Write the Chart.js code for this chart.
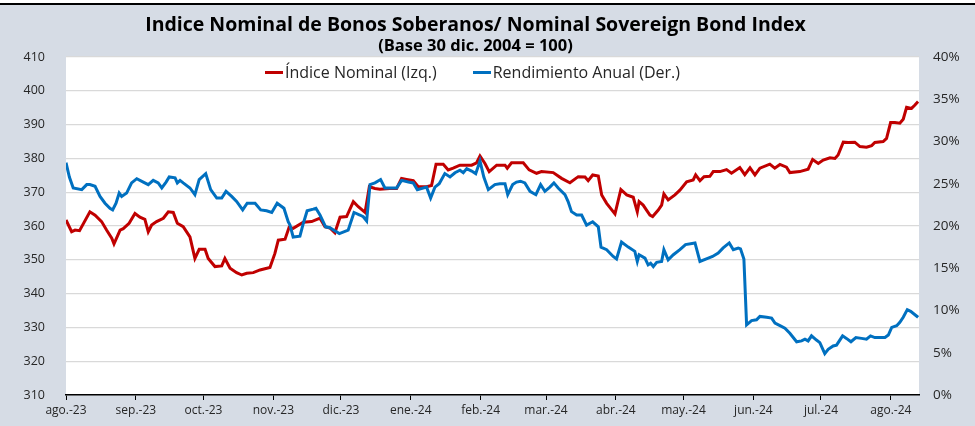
<!DOCTYPE html>
<html>
<head>
<meta charset="utf-8">
<script src="https://cdn.jsdelivr.net/npm/chart.js@4.4.1/dist/chart.umd.min.js"></script>
<style>
  body { margin: 0; background: #fff; }
  #wrap { position: relative; width: 975px; height: 426px; }
  #topRule { position: absolute; left: 0; top: 0; width: 975px; height: 3px; background: #fff; border-bottom: 2px solid #000; }
  #legendBox { position: absolute; left: 265px; top: 61px; display: flex; font-family: 'Open Sans', sans-serif; font-size: 16px; color: #262626; line-height: 22px; }
  #legendBox .item { display: flex; align-items: center; margin-right: 36px; white-space: nowrap; }
  #legendBox .swatch { width: 18px; height: 3px; margin-right: 2px; }
</style>
</head>
<body>
<div id="wrap">
  <canvas id="bondChart" width="975" height="426"></canvas>
  <div id="topRule"></div>
  <div id="legendBox"></div>
</div>
<script>
// month ticks, as days since 1 Aug 2023
const monthLabels = ["ago.-23", "sep.-23", "oct.-23", "nov.-23", "dic.-23", "ene.-24", "feb.-24", "mar.-24", "abr.-24", "may.-24", "jun.-24", "jul.-24", "ago.-24"];
const monthDays = [0, 31, 61, 92, 122, 153, 184, 213, 244, 274, 305, 335, 366];

// Índice Nominal (left axis)
const indexDays = [0, 2.5, 4, 6, 10.6, 12.9, 15.8, 18, 20.3, 21.3, 24, 25.4, 28, 30.6, 32.8, 35, 36.5, 38, 40.2, 43.2,
  45.4, 47.6, 49.4, 52, 55, 57.2, 59.1, 61.7, 63.1, 66.1, 69.1, 70.5, 72.8, 75.7, 78, 80.2, 83.1, 86.1, 90.5, 92.7,
  94.2, 97.2, 99, 100.8, 105.3, 109, 112.7, 114.9, 117.1, 119.3, 121.6, 124.5, 127.5, 129.7, 132.7, 134.6, 137.1, 139.3, 143.7, 146.7,
  148.9, 151.1, 154.1, 156.3, 160, 162.2, 164.2, 167.4, 169.6, 171.8, 174.8, 180, 182.2, 183.7, 185.9, 187.8, 191.1, 194.8, 195.8, 197.7,
  202.9, 205.5, 208.8, 211, 216.2, 219.9, 223.6, 227.3, 230.3, 231.7, 233.7, 236.2, 237.7, 239.9, 243.6, 246.2, 248.8, 251.7, 253.5, 254.3,
  256.1, 257.6, 259.1, 260.3, 262.8, 264.3, 265.3, 267.2, 270.2, 272.4, 275.4, 278.3, 279.4, 281.3, 283.1, 285.7, 287.2, 290.2, 293.1, 295.3,
  299, 301.2, 303.5, 305.7, 307.9, 312.3, 314.5, 316.8, 319.7, 321.2, 325.6, 329.3, 331.3, 333.8, 336, 339, 341.2, 342.6, 344.9, 347.1,
  350, 352.3, 355.2, 357.5, 358.9, 362.6, 364.1, 365.9, 367.8, 370, 371.5, 373, 375.2, 376.7, 378.1];
const indexValues = [361.8, 358.3, 358.8, 358.6, 364.2, 363.2, 361.3, 358.8, 356.4, 354.7, 358.8, 359.2, 360.8, 363.7, 362.6, 362.0, 358.3, 360.3, 361.3, 362.3,
  364.2, 364.0, 360.8, 359.8, 356.8, 350.4, 353.1, 353.1, 350.4, 348.0, 348.2, 350.4, 347.5, 346.2, 345.5, 346.0, 346.2, 347.0, 347.7, 351.9,
  355.8, 356.1, 359.6, 359.3, 361.1, 361.3, 362.3, 359.8, 359.4, 358.0, 362.6, 362.8, 367.2, 365.7, 364.0, 371.6, 371.1, 370.9, 371.1, 371.1,
  374.1, 373.8, 373.4, 371.6, 371.6, 372.0, 378.3, 378.3, 376.6, 377.1, 378.0, 378.0, 378.7, 380.7, 378.5, 376.1, 378.0, 378.0, 377.1, 378.7,
  378.7, 376.6, 375.6, 376.1, 375.8, 374.1, 372.8, 374.6, 374.5, 373.4, 375.1, 374.8, 369.2, 366.7, 363.6, 370.8, 369.2, 368.5, 364.2, 367.2,
  366.2, 364.7, 363.2, 362.8, 364.7, 366.2, 369.5, 367.7, 369.2, 370.6, 373.1, 373.6, 375.1, 373.4, 374.6, 374.7, 376.1, 376.1, 376.7, 375.6,
  377.3, 375.2, 377.2, 375.1, 377.1, 378.3, 377.1, 378.2, 377.4, 375.8, 376.1, 376.8, 379.7, 378.5, 379.5, 380.2, 380.0, 381.0, 384.8, 384.7,
  384.8, 383.5, 383.3, 383.8, 384.7, 385.0, 385.9, 390.6, 390.6, 390.4, 391.6, 395.1, 394.8, 395.8, 396.8];

// Rendimiento Anual, % (right axis)
const yieldDays = [0, 1.5, 3.2, 7, 9.2, 10.6, 12.9, 15.1, 17.3, 19.5, 20.7, 22.2, 23.6, 24.7, 26.9, 29.1, 31.4, 34.3, 36.5, 38.7,
  40.9, 42.5, 44.4, 45.8, 48.4, 49.4, 50.6, 52, 55, 57.2, 59.1, 62, 64.2, 66.9, 69.1, 71, 73.5, 75.7, 78.4, 80.4,
  83.9, 86.4, 89, 91.3, 93.7, 96.7, 98.6, 99.4, 100.8, 103.8, 105.3, 107, 109.7, 110.9, 112.7, 115.2, 117.1, 118.9, 121.3, 125.2,
  127.8, 130.4, 131.9, 133.4, 134.9, 137.1, 139.6, 141.5, 146.7, 148.9, 151.9, 154.1, 155.9, 160, 161.8, 163.7, 165.6, 168.1, 170.4, 172.6,
  174.8, 176.3, 177.8, 180, 181.8, 183.7, 185.4, 187.4, 190.3, 192.5, 194.8, 196, 198.2, 199.9, 201.7, 203.6, 205.9, 208.5, 210.6, 212.5,
  214.7, 216.5, 218.4, 221.4, 222.8, 224.3, 226.6, 228.8, 231, 233.7, 236.2, 237.4, 239.9, 242.8, 244.3, 246.5, 249.5, 252.4, 253.5, 254.3,
  256.9, 258.3, 259.4, 260.6, 262.1, 264.3, 265.3, 267.2, 269.5, 272.4, 274.9, 279.1, 281.3, 285, 286.9, 289.4, 291.6, 294.3, 296.1, 298.3,
  299.3, 300.8, 302, 304.2, 306.4, 307.9, 310.9, 313.1, 314.6, 316.8, 319, 321.2, 324.2, 326.4, 327.9, 329.3, 330.8, 333, 334.5, 336.7,
  338.2, 340.4, 341.9, 344.6, 346.3, 348.3, 350.5, 353, 355.2, 357, 358.9, 363.4, 364.9, 366.4, 368.6, 370, 371.5, 373.3, 374.8, 376.7, 378.1];
const yieldValues = [27.5, 25.8, 24.5, 24.3, 24.9, 24.9, 24.7, 23.5, 22.7, 22.1, 21.9, 22.7, 23.9, 23.5, 23.9, 25.1, 25.6, 25.2, 24.9, 25.4,
  25.1, 24.5, 25.2, 25.8, 25.7, 25.1, 25.4, 25.1, 24.5, 23.7, 25.5, 26.2, 24.3, 23.3, 23.3, 24.1, 23.5, 22.9, 21.9, 22.7,
  22.7, 21.9, 21.8, 21.6, 22.7, 22.1, 20.5, 20.1, 18.7, 18.8, 20.3, 21.8, 22.0, 22.1, 21.3, 19.9, 19.8, 19.5, 19.1, 19.5,
  21.6, 21.3, 21.1, 20.6, 24.9, 25.1, 25.5, 24.5, 24.5, 25.4, 25.2, 25.1, 24.3, 24.6, 23.3, 24.6, 25.0, 26.2, 25.8, 26.3,
  26.6, 26.3, 26.8, 26.5, 26.2, 27.7, 25.8, 24.3, 24.9, 25.0, 25.0, 23.7, 24.9, 25.2, 25.3, 25.1, 24.1, 23.7, 24.9, 24.1,
  24.6, 25.1, 24.5, 23.7, 22.9, 21.7, 21.3, 21.3, 20.1, 20.5, 19.9, 17.5, 17.2, 16.4, 16.1, 18.1, 17.5, 17.0, 15.8, 16.6,
  16.2, 15.4, 15.6, 15.2, 15.7, 15.8, 17.2, 16.0, 16.6, 17.2, 17.8, 18.0, 15.8, 16.2, 16.4, 16.8, 17.4, 18.0, 17.2, 17.4,
  17.3, 16.1, 8.3, 8.8, 8.9, 9.3, 9.2, 9.1, 8.5, 8.2, 7.9, 7.3, 6.3, 6.4, 6.6, 6.4, 7.0, 6.5, 6.2, 4.9,
  5.4, 5.8, 5.9, 7.0, 6.7, 6.3, 6.8, 6.7, 6.6, 7.0, 6.8, 6.8, 7.1, 8.0, 8.2, 8.6, 9.2, 10.1, 9.9, 9.5, 9.2];

const toPoints = (days, values) => days.map((d, i) => ({ x: d, y: values[i] }));

Chart.defaults.font.family = "'Open Sans', sans-serif";
Chart.defaults.color = "#262626";

// grey-blue frame with a white plot area
const chartBackground = {
  id: "chartBackground",
  beforeDraw(chart) {
    const { ctx, chartArea } = chart;
    ctx.save();
    ctx.fillStyle = "#D6DCE5";
    ctx.fillRect(0, 0, chart.width, chart.height);
    ctx.fillStyle = "#FFFFFF";
    ctx.fillRect(chartArea.left, chartArea.top, chartArea.right - chartArea.left, chartArea.bottom - chartArea.top);
    ctx.restore();
  },
};

// the headings sit a little left of the canvas centre in the original
const titleNudge = {
  id: "titleNudge",
  afterUpdate(chart) {
    chart.boxes
      .filter((b) => b.options && typeof b.options.text === "string")
      .forEach((b) => {
        b.left -= 12;
        b.right -= 12;
      });
  },
};

// html legend laid over the top of the plot area (red entry first)
const htmlLegend = {
  id: "htmlLegend",
  afterUpdate(chart) {
    const box = document.getElementById("legendBox");
    box.innerHTML = "";
    const items = chart.options.plugins.legend.labels.generateLabels(chart).reverse();
    items.forEach((item) => {
      const row = document.createElement("div");
      row.className = "item";
      const swatch = document.createElement("span");
      swatch.className = "swatch";
      swatch.style.background = item.strokeStyle;
      const text = document.createElement("span");
      text.textContent = item.text;
      row.appendChild(swatch);
      row.appendChild(text);
      box.appendChild(row);
    });
  },
};

const ctx = document.getElementById("bondChart").getContext("2d");
const bondChart = new Chart(ctx, {
  type: "line",
  data: {
    datasets: [
      {
        label: "Rendimiento Anual (Der.)",
        data: toPoints(yieldDays, yieldValues),
        borderColor: "#0070C0",
        backgroundColor: "#0070C0",
        borderWidth: 3,
        pointRadius: 0,
        tension: 0,
        yAxisID: "yRight",
      },
      {
        label: "Índice Nominal (Izq.)",
        data: toPoints(indexDays, indexValues),
        borderColor: "#C00000",
        backgroundColor: "#C00000",
        borderWidth: 3,
        pointRadius: 0,
        tension: 0,
        yAxisID: "yLeft",
      },
    ],
  },
  options: {
    responsive: false,
    animation: false,
    layout: { padding: 0 },
    plugins: {
      title: {
        display: true,
        text: "Indice Nominal de Bonos Soberanos/ Nominal Sovereign Bond Index",
        color: "#000",
        font: { size: 19.5, weight: "bold", lineHeight: 1.2 },
        padding: { top: 13.3, bottom: 0 },
      },
      subtitle: {
        display: true,
        text: "(Base 30 dic. 2004 = 100)",
        color: "#000",
        font: { size: 16.5, weight: "bold", lineHeight: 1.2 },
        padding: { top: 0, bottom: 0.5 },
      },
      legend: { display: false },
      tooltip: { enabled: false },
    },
    scales: {
      x: {
        type: "linear",
        min: 0,
        max: 378.5,
        afterBuildTicks: (axis) => {
          axis.ticks = monthDays.map((d) => ({ value: d }));
        },
        afterFit: (axis) => {
          axis.height = 31;
        },
        ticks: {
          autoSkip: false,
          maxRotation: 0,
          padding: 3,
          font: { size: 12 },
          callback: (value) => monthLabels[monthDays.indexOf(value)],
        },
        grid: { drawOnChartArea: false, drawTicks: true, tickLength: 5, color: "#000" },
        border: { display: true, color: "#000", width: 1.5 },
      },
      yLeft: {
        position: "left",
        min: 310,
        max: 410,
        afterFit: (axis) => {
          axis.width = 66;
        },
        ticks: { stepSize: 10, padding: 21, font: { size: 12.5 } },
        grid: { color: "#D9D9D9", lineWidth: 1.2, drawTicks: false },
        border: { display: false },
      },
      yRight: {
        position: "right",
        min: 0,
        max: 40,
        afterFit: (axis) => {
          axis.width = 56;
        },
        ticks: { stepSize: 5, padding: 14, font: { size: 13.5 }, callback: (v) => v + "%" },
        grid: { drawOnChartArea: false, drawTicks: false },
        border: { display: false },
      },
    },
  },
  plugins: [chartBackground, titleNudge, htmlLegend],
});
</script>
</body>
</html>
